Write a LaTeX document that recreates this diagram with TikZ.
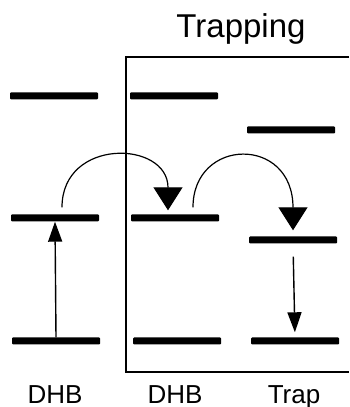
\documentclass[tikz,border=0pt]{standalone}
\usepackage{fontspec}
\setmainfont{Liberation Sans}
\usetikzlibrary{arrows.meta,calc}
\tikzset{
  level/.style={
    shape = rectangle,
    fill,
    inner sep = 0pt,
    minimum width = 88pt,
    minimum height = 7pt,
    rounded corners = 1pt
  },
  hop/.style={
    line width = 1.2pt,
    -{Triangle[length=23pt,width=29pt]}
  },
  decay/.style={
    line width = 1.4pt,
    -{Triangle[length=20pt,width=14pt]}
  },
  lab/.style={
    anchor = base,
    inner sep = 0pt,
    font = \fontsize{26}{28}\selectfont
  }
}

\begin{document}
\begin{tikzpicture}[x=1pt,y=1pt]
        \useasboundingbox (0,0) rectangle (349,407);
        % trapping box, open to the right
        \draw[line width=2pt] (349,350) -- (126,350) -- (126,35) -- (349,35);
        \node[anchor=base, inner sep=0pt, font=\fontsize{33}{36}\selectfont] (title) at (241,369) {Trapping};
        % levels
        \node[level] (d1top) at (54,311) {};
        \node[level] (d1mid) at (55,189) {};
        \node[level] (d1bot) at (56,66) {};
        \node[level] (d2top) at (174,311) {};
        \node[level] (d2mid) at (175,189) {};
        \node[level] (d2bot) at (177,66) {};
        \node[level] (trtop) at (291,277) {};
        \node[level] (trmid) at (293,167) {};
        \node[level] (trbot) at (295,66) {};
        % labels
        \node[lab] (l1) at (55,4) {DHB};
        \node[lab] (l2) at (175,4) {DHB};
        \node[lab] (l3) at (294,4) {Trap};
        % transitions
        \draw[decay] (d1bot.north) -- (d1mid.south);
        \draw[hop] ([xshift=7pt,yshift=7pt]d1mid.north) .. controls +(0,70) and +(0,70) .. ([xshift=-7pt,yshift=4pt]d2mid.north);
        \draw[hop] ([xshift=18pt,yshift=7pt]d2mid.north) .. controls +(0,70) and +(0,95) .. ([xshift=0pt,yshift=6pt]trmid.north);
        \draw[decay, shorten <=13pt, shorten >=5pt] (trmid.south) -- (trbot.north);
\end{tikzpicture}
\end{document}
